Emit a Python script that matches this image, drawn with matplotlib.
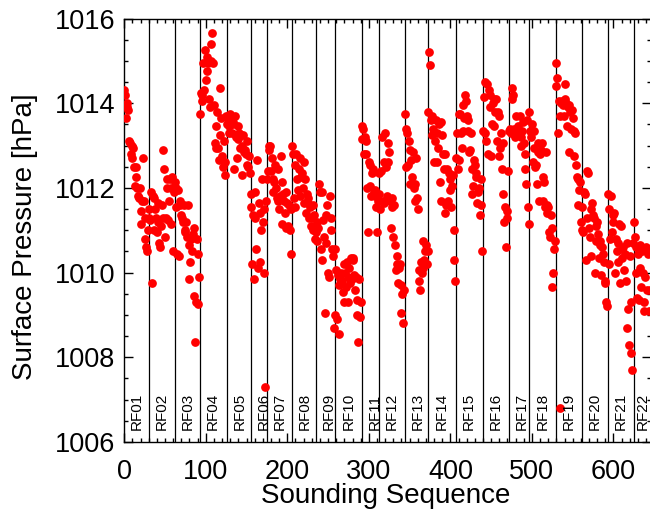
import numpy as np
import matplotlib
matplotlib.use("Agg")
import matplotlib.pyplot as plt
from matplotlib.ticker import MultipleLocator

plt.rcParams['font.family'] = ['Liberation Sans', 'DejaVu Sans']

flight_names = ['RF%02d' % i for i in range(1, 23)]

rf01 = [1014.3, 1014.2, 1013.65, 1014.0, 1013.9, 1013.85, 1013.1, 1013.05, 1012.8, 1012.7,
        1013.0, 1012.95, 1012.5, 1012.05, 1012.5, 1012.25, 1012.0, 1011.8, 1011.75, 1012.0,
        1011.15, 1011.45, 1011.7, 1012.7, 1011.7, 1011.3, 1010.8, 1010.6, 1010.5, 1011.0]
rf02 = [1011.3, 1011.5, 1011.25, 1011.9, 1009.75, 1011.8, 1011.75, 1011.0, 1011.5, 1011.3,
        1010.95, 1011.2, 1011.65, 1010.7, 1010.6, 1011.1, 1011.6, 1011.3, 1012.9, 1012.45,
        1010.85, 1011.3, 1012.2, 1012.0, 1011.25, 1011.7, 1012.2, 1011.15, 1012.0, 1012.25,
        1010.5, 1011.9]
rf03 = [1012.15, 1012.0, 1011.55, 1010.45, 1011.95, 1010.4, 1011.6, 1011.7, 1011.35, 1011.3,
        1011.2, 1011.6, 1011.0, 1010.95, 1011.2, 1010.85, 1011.6, 1010.65, 1009.85, 1010.25,
        1010.8, 1010.5, 1010.9, 1009.45, 1011.05, 1008.35, 1009.3, 1010.8, 1009.25, 1010.45,
        1009.9]
rf04 = [1013.75, 1014.25, 1014.2, 1014.05, 1014.95, 1014.3, 1015.25, 1014.55, 1015.1, 1014.75,
        1014.95, 1014.1, 1013.9, 1015.4, 1015.0, 1015.65, 1014.95, 1013.95, 1013.05, 1012.95,
        1013.45, 1013.8, 1012.95, 1012.65, 1014.35, 1013.25, 1013.65, 1012.75, 1012.5, 1013.1,
        1012.3, 1012.6, 1013.7]
rf05 = [1013.5, 1013.65, 1013.45, 1013.3, 1013.75, 1013.6, 1013.3, 1013.55, 1013.5, 1012.45,
        1013.7, 1013.2, 1012.7, 1013.15, 1013.45, 1013.3, 1012.95, 1013.25, 1012.3, 1013.0,
        1013.25, 1012.85, 1012.9, 1012.8, 1013.1, 1012.55, 1012.5, 1012.75, 1012.35]
rf06 = [1011.85, 1011.55, 1010.2, 1011.35, 1009.85, 1011.3, 1011.9, 1010.55, 1012.65, 1010.1,
        1011.65, 1011.4, 1010.25, 1011.0, 1012.2, 1011.2, 1011.5, 1010.0, 1007.3, 1011.7]
rf07 = [1012.2, 1012.4, 1013.0, 1012.9, 1013.0, 1012.4, 1012.7, 1011.9, 1012.2, 1012.15,
        1012.55, 1012.0, 1011.75, 1011.7, 1012.45, 1011.5, 1011.8, 1012.75, 1011.15, 1012.15,
        1011.85, 1011.7, 1011.4, 1011.05, 1011.9, 1011.65, 1011.1, 1011.6, 1011.0, 1010.45,
        1011.5]
rf08 = [1013.0, 1012.8, 1011.75, 1011.55, 1012.55, 1012.8, 1012.2, 1011.95, 1012.45, 1011.8,
        1012.7, 1012.25, 1012.35, 1012.0, 1012.6, 1011.65, 1012.2, 1011.4, 1011.85, 1011.75,
        1011.65, 1011.3, 1011.55, 1011.1, 1011.3, 1011.6, 1011.0, 1011.35, 1010.8]
rf09 = [1010.95, 1011.2, 1010.75, 1011.05, 1012.1, 1011.9, 1010.55, 1011.9, 1010.3, 1011.25,
        1010.85, 1009.05, 1011.35, 1010.7, 1011.6, 1010.0, 1009.9, 1011.8, 1011.0, 1011.3,
        1010.55, 1010.4, 1008.7, 1010.55]
rf10 = [1009.0, 1010.05, 1008.9, 1009.95, 1008.55, 1009.7, 1009.85, 1010.0, 1009.8, 1009.55,
        1010.2, 1009.3, 1010.0, 1009.65, 1010.25, 1009.3, 1009.9, 1010.1, 1009.75, 1010.35,
        1009.85, 1010.3, 1010.35, 1009.95, 1009.6, 1009.9, 1009.0, 1009.35, 1008.35, 1009.85,
        1008.95, 1009.3]
rf11 = [1013.45, 1013.15, 1013.4, 1012.8, 1013.2, 1013.1, 1012.8, 1012.0, 1010.95, 1012.6,
        1012.55, 1012.05, 1011.8, 1012.35, 1012.45, 1011.9, 1011.95, 1011.8, 1011.55, 1010.95,
        1011.7]
rf12 = [1012.35, 1011.85, 1011.5, 1012.4, 1013.2, 1011.7, 1012.6, 1011.65, 1013.3, 1012.5,
        1011.8, 1013.05, 1012.6, 1012.85, 1011.7, 1011.05, 1011.75, 1011.55, 1010.85, 1011.6,
        1010.65, 1010.05, 1010.4, 1010.2, 1009.75, 1010.1, 1010.2, 1009.7, 1009.05, 1009.5,
        1008.8, 1009.6]
rf13 = [1013.75, 1012.5, 1013.4, 1013.3, 1012.55, 1013.1, 1012.9, 1012.1, 1012.65, 1012.25,
        1012.85, 1012.0, 1011.7, 1012.1, 1012.7, 1011.75, 1011.5, 1009.8, 1010.05, 1009.6,
        1010.25, 1010.0, 1010.75, 1010.1, 1010.3, 1010.5, 1010.65, 1010.2, 1010.5]
rf14 = [1013.8, 1015.2, 1014.9, 1013.6, 1013.25, 1013.7, 1013.4, 1012.6, 1013.1, 1013.6,
        1012.6, 1013.3, 1012.95, 1013.5, 1012.15, 1011.7, 1013.55, 1013.25, 1012.8, 1012.45,
        1012.8, 1011.4, 1011.6, 1012.45, 1011.7, 1012.35, 1011.95, 1012.2, 1011.55, 1012.05,
        1012.3, 1011.0, 1010.3, 1009.8]
rf15 = [1012.7, 1013.3, 1012.45, 1013.75, 1012.65, 1013.75, 1013.3, 1012.95, 1013.35, 1013.95,
        1013.65, 1014.2, 1014.05, 1013.7, 1013.6, 1013.35, 1012.85, 1012.9, 1013.3, 1012.45,
        1011.85, 1012.05, 1012.65, 1012.55, 1012.35, 1012.25, 1011.65, 1011.9, 1012.0, 1011.35,
        1012.2, 1011.6, 1010.5]
rf16 = [1013.35, 1014.15, 1013.3, 1014.5, 1013.1, 1014.45, 1012.8, 1014.3, 1014.2, 1013.9,
        1012.75, 1013.5, 1014.0, 1014.1, 1013.45, 1013.8, 1014.1, 1013.1, 1013.8, 1012.75,
        1013.7, 1012.95, 1013.3, 1012.45, 1013.05, 1011.85, 1011.2, 1011.55, 1010.6, 1011.45,
        1011.3, 1012.4]
rf17 = [1013.35, 1013.4, 1013.3, 1014.35, 1014.1, 1014.2, 1013.4, 1013.2, 1013.7, 1013.35,
        1013.25, 1013.45, 1013.3, 1013.7, 1013.0, 1013.2, 1013.35, 1013.55, 1013.05, 1012.8,
        1012.45, 1012.1, 1013.6, 1011.55, 1011.15]
rf18 = [1013.8, 1013.35, 1013.2, 1013.5, 1012.6, 1012.95, 1013.35, 1012.5, 1012.55, 1012.1,
        1012.85, 1013.05, 1011.7, 1012.8, 1012.9, 1013.05, 1011.7, 1012.25, 1012.15, 1011.55,
        1012.85, 1011.6, 1011.4, 1011.55, 1010.95, 1010.85, 1011.35, 1011.05, 1009.65, 1010.0,
        1010.55, 1010.75]
rf19 = [1014.4, 1014.95, 1014.6, 1013.3, 1014.05, 1006.8, 1013.7, 1014.0, 1014.05, 1013.95,
        1013.7, 1014.1, 1014.45, 1014.0, 1013.45, 1013.9, 1012.85, 1013.95, 1013.8, 1013.4,
        1013.85, 1013.65, 1013.35, 1012.75, 1013.3, 1012.55, 1012.25, 1011.6, 1012.2, 1011.95,
        1012.15, 1011.2]
rf20 = [1011.55, 1011.0, 1010.95, 1011.9, 1011.85, 1010.3, 1011.3, 1012.4, 1012.35, 1011.05,
        1010.85, 1011.5, 1010.4, 1011.65, 1011.35, 1011.3, 1010.0, 1010.75, 1011.1, 1011.2,
        1010.9, 1010.35, 1010.75, 1010.65, 1009.95, 1010.6, 1010.45, 1010.25, 1009.8, 1009.75,
        1009.3, 1009.2]
rf21 = [1011.85, 1010.2, 1011.5, 1010.8, 1011.8, 1010.95, 1011.2, 1011.35, 1011.4, 1010.0,
        1010.8, 1010.5, 1010.7, 1010.25, 1011.15, 1009.75, 1011.1, 1010.55, 1010.35, 1010.6,
        1010.05, 1010.45, 1009.8, 1010.7, 1008.7, 1009.15, 1008.3, 1010.4, 1009.3, 1008.1,
        1007.7, 1010.7]
rf22 = [1011.2, 1010.85, 1010.0, 1010.6, 1009.4, 1010.45, 1009.35, 1010.65, 1010.1, 1009.65,
        1010.5, 1010.0, 1009.1, 1009.3, 1009.9, 1010.6, 1009.6, 1010.45, 1009.1, 1010.55,
        1009.6]

flights = [rf01, rf02, rf03, rf04, rf05, rf06, rf07, rf08, rf09, rf10, rf11,
           rf12, rf13, rf14, rf15, rf16, rf17, rf18, rf19, rf20, rf21, rf22]

pressure = np.concatenate([np.asarray(f, dtype=float) for f in flights])
seq = np.arange(len(pressure))
starts = np.concatenate([[0], np.cumsum([len(f) for f in flights])[:-1]])
n_total = len(pressure)

W, H = 650, 511
fig = plt.figure(figsize=(W / 100, H / 100), dpi=100)
ax = fig.add_axes([124.2 / W, (H - 442) / H, (651.0 - 124.2) / W, (442 - 18.5) / H])

ax.plot(seq, pressure, 'o', color='#ff0000', ms=6.3, mec='none', zorder=3)
for s in starts[1:]:
    ax.axvline(s, color='black', lw=0.9, zorder=2)
for name, s in zip(flight_names, starts):
    xpos = min(s + 16, n_total - 10.5)
    ax.text(xpos, 1006.28, name, rotation=90, ha='center', va='bottom',
            fontsize=11, zorder=4)

ax.set_xlim(0, n_total)
ax.set_ylim(1006, 1016)
ax.xaxis.set_major_locator(MultipleLocator(100))
ax.xaxis.set_minor_locator(MultipleLocator(10))
ax.yaxis.set_major_locator(MultipleLocator(2))
ax.yaxis.set_minor_locator(MultipleLocator(0.5))

ax.tick_params(which='both', direction='in', top=True, right=True, width=1, color='black')
ax.tick_params(which='major', length=6.7, labelsize=19.5)
ax.tick_params(which='minor', length=3)
ax.tick_params(axis='x', which='major', pad=12.5)
ax.tick_params(axis='y', which='major', pad=6.5)
for sp in ax.spines.values():
    sp.set_linewidth(1)

ax.set_xlabel('Sounding Sequence', fontsize=20)
ax.set_ylabel('Surface Pressure [hPa]', fontsize=20)
ax.xaxis.set_label_coords(0.497, -0.0968)
ax.yaxis.set_label_coords(-0.164, 0.484)

fig.savefig('out.png', dpi=100)
